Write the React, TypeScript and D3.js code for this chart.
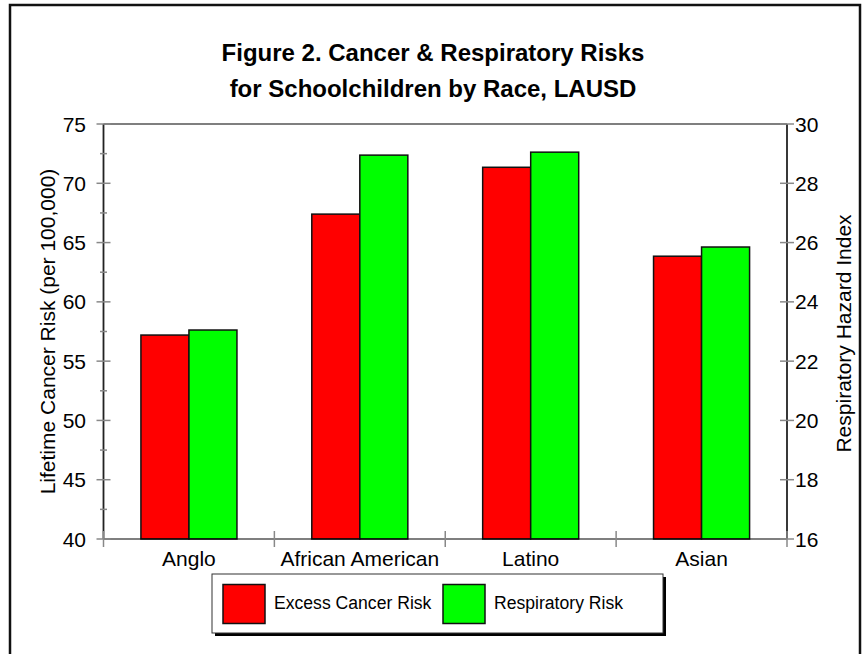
import React from "react";
import * as d3 from "d3";

const categories = ["Anglo", "African American", "Latino", "Asian"];
const cancerRisk = [57.2, 67.4, 71.35, 63.85];
const respiratoryRisk = [23.05, 28.95, 29.05, 25.85];
const leftTicks = [40, 45, 50, 55, 60, 65, 70, 75];
const leftMinorTicks = [42.5, 47.5, 52.5, 57.5, 62.5, 67.5, 72.5];
const rightTicks = [16, 18, 20, 22, 24, 26, 28, 30];
const seriesNames = ["Excess Cancer Risk", "Respiratory Risk"];
const seriesColors = ["#ff0000", "#00ff00"];
const titleLines = ["Figure 2. Cancer & Respiratory Risks", "for Schoolchildren by Race, LAUSD"];

const W = 867;
const H = 654;
const FONT = "'Liberation Sans', Arial, Helvetica, sans-serif";

export default function App() {
  const left = 103.5, right = 787, top = 124, bottom = 539;
  const x0 = d3.scaleBand<string>().domain(categories).range([left, right]).paddingInner(0).paddingOuter(0);
  const bw = x0.bandwidth();
  const x1 = d3.scaleBand<string>().domain(seriesNames).range([bw * 0.219, bw * 0.781]).padding(0);
  const yL = d3.scaleLinear().domain([40, 75]).range([bottom, top]);
  const yR = d3.scaleLinear().domain([16, 30]).range([bottom, top]);
  const boundaries = [...categories.map((c) => x0(c) as number), right];

  const legX = 212, legY = 574, legW = 451, legH = 59;

  return (
    <svg width={W} height={H} style={{ position: "absolute", left: 0, top: 0, background: "#fff" }} fontFamily={FONT}>
      <rect x={0} y={0} width={W} height={H} fill="#fff" />
      <rect x={10} y={5} width={850} height={700} fill="none" stroke="#111" strokeWidth={2.5} />
      {titleLines.map((t, i) => (
        <text key={i} x={433} y={61 + i * 36} textAnchor="middle" fontWeight="bold" fontSize={24} fill="#000">
          {t}
        </text>
      ))}

      {/* bars */}
      {categories.map((c, i) => {
        const bx = x0(c) as number;
        const vals = [yL(cancerRisk[i]), yR(respiratoryRisk[i])];
        return (
          <g key={c}>
            {seriesNames.map((s, j) => (
              <rect
                key={s}
                x={bx + (x1(s) as number)}
                y={vals[j]}
                width={x1.bandwidth()}
                height={bottom - vals[j]}
                fill={seriesColors[j]}
                stroke="#111"
                strokeWidth={1.5}
              />
            ))}
          </g>
        );
      })}

      {/* frame lines */}
      <line x1={left} x2={right} y1={top} y2={top} stroke="#000" strokeWidth={1.2} />
      <line x1={left} x2={right} y1={bottom} y2={bottom} stroke="#000" strokeWidth={1.2} />
      <line x1={left} x2={left} y1={top} y2={bottom} stroke="#222" strokeWidth={1.8} />
      <line x1={right} x2={right} y1={top} y2={bottom} stroke="#222" strokeWidth={1.8} />

      {/* left ticks */}
      {leftTicks.map((t) => (
        <g key={t}>
          <line x1={left - 7} x2={left + 7} y1={yL(t)} y2={yL(t)} stroke="#888" strokeWidth={1.5} />
          <text x={86} y={yL(t)} dy="0.36em" textAnchor="end" fontSize={21} fill="#000">
            {t}
          </text>
        </g>
      ))}
      {leftMinorTicks.map((t) => (
        <line key={t} x1={left - 3.5} x2={left + 3.5} y1={yL(t)} y2={yL(t)} stroke="#888" strokeWidth={1.5} />
      ))}

      {/* right ticks */}
      {rightTicks.map((t) => (
        <g key={t}>
          <line x1={right - 7} x2={right + 7} y1={yR(t)} y2={yR(t)} stroke="#888" strokeWidth={1.5} />
          <text x={795} y={yR(t)} dy="0.36em" textAnchor="start" fontSize={21} fill="#000">
            {t}
          </text>
        </g>
      ))}

      {/* x ticks */}
      {boundaries.map((b, i) => (
        <line key={i} x1={b} x2={b} y1={bottom - 8} y2={bottom + 8} stroke="#888" strokeWidth={1.5} />
      ))}
      {categories.map((c) => (
        <text key={c} x={(x0(c) as number) + bw / 2} y={566} textAnchor="middle" fontSize={21} fill="#000">
          {c}
        </text>
      ))}

      {/* axis titles */}
      <text transform={`translate(55, ${(top + bottom) / 2}) rotate(-90)`} textAnchor="middle" fontSize={21} fill="#000">
        Lifetime Cancer Risk (per 100,000)
      </text>
      <text transform={`translate(851, ${(top + bottom) / 2 + 2}) rotate(-90)`} textAnchor="middle" fontSize={21} fill="#000">
        Respiratory Hazard Index
      </text>

      {/* legend */}
      <rect x={legX + 3} y={legY + 3} width={legW} height={legH} fill="#000" />
      <rect x={legX} y={legY} width={legW} height={legH} fill="#fff" stroke="#333" strokeWidth={1} />
      {seriesNames.map((s, j) => {
        const sx = [223, 443][j];
        return (
          <g key={s}>
            <rect x={sx} y={584.5} width={42} height={39} fill={seriesColors[j]} stroke="#111" strokeWidth={1.5} />
            <text x={sx + 51} y={608.5} fontSize={17.6} fill="#000">
              {s}
            </text>
          </g>
        );
      })}
    </svg>
  );
}
